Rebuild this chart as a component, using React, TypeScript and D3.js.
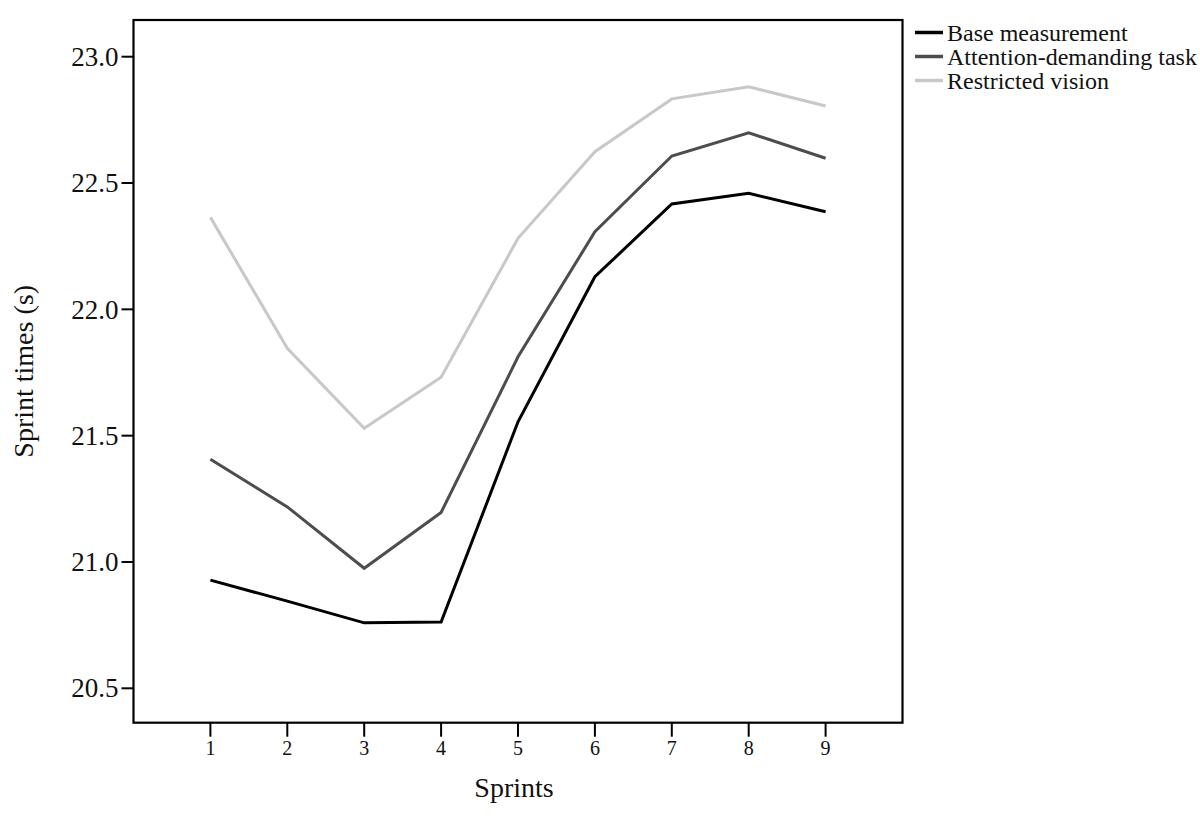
import React from "react";
import * as d3 from "d3";

const sprints = [1, 2, 3, 4, 5, 6, 7, 8, 9];
const baseMeasurement = [20.928, 20.845, 20.759, 20.762, 21.555, 22.129, 22.417, 22.459, 22.386];
const attentionTask = [21.407, 21.218, 20.975, 21.196, 21.812, 22.307, 22.607, 22.699, 22.598];
const restrictedVision = [22.364, 21.846, 21.529, 21.731, 22.281, 22.624, 22.833, 22.881, 22.805];
const yTicks = [20.5, 21.0, 21.5, 22.0, 22.5, 23.0];
const seriesNames = ["Base measurement", "Attention-demanding task", "Restricted vision"];
const seriesColors = ["#000000", "#4d4d4d", "#c8c8c8"];

const FONT = "'Liberation Serif', 'Times New Roman', serif";

export default function App() {
  const left = 133.5, right = 902.5, top = 20, bottom = 722.7;
  const x = d3.scaleLinear().domain([0, 10]).range([left, right]);
  const y = d3.scaleLinear().domain([20.5, 23.0]).range([688.3, 56.7]);
  const line = d3
    .line<number>()
    .x((_, i) => x(sprints[i]))
    .y((d) => y(d));
  const series = [baseMeasurement, attentionTask, restrictedVision];

  return (
    <svg
      width={1200}
      height={840}
      style={{ position: "absolute", left: 0, top: 0, background: "#fff" }}
      fontFamily={FONT}
    >
      <rect x={0} y={0} width={1200} height={840} fill="#fff" />
      {series.map((s, k) => (
        <path
          key={k}
          d={line(s) || ""}
          fill="none"
          stroke={seriesColors[k]}
          strokeWidth={3}
          strokeLinejoin="miter"
        />
      ))}
      <rect
        x={left}
        y={top}
        width={right - left}
        height={bottom - top}
        fill="none"
        stroke="#000"
        strokeWidth={2.2}
      />
      {yTicks.map((t) => (
        <g key={t}>
          <line x1={left - 12} x2={left} y1={y(t)} y2={y(t)} stroke="#000" strokeWidth={2} />
          <text
            x={left - 15}
            y={y(t)}
            dy="0.34em"
            textAnchor="end"
            fontSize={27}
            fill="#111"
          >
            {t.toFixed(1)}
          </text>
        </g>
      ))}
      {sprints.map((s) => (
        <g key={s}>
          <line x1={x(s)} x2={x(s)} y1={bottom} y2={bottom + 14} stroke="#000" strokeWidth={2} />
          <text x={x(s)} y={bottom + 32} textAnchor="middle" fontSize={20} fill="#111">
            {s}
          </text>
        </g>
      ))}
      <text x={514} y={797} textAnchor="middle" fontSize={28} fill="#111">
        Sprints
      </text>
      <text
        transform={`translate(33, ${(top + bottom) / 2}) rotate(-90)`}
        textAnchor="middle"
        fontSize={28}
        fill="#111"
      >
        Sprint times (s)
      </text>
      {seriesNames.map((n, k) => (
        <g key={n}>
          <line
            x1={915}
            x2={943}
            y1={32.5 + k * 24}
            y2={32.5 + k * 24}
            stroke={seriesColors[k]}
            strokeWidth={3.5}
          />
          <text x={947} y={40.5 + k * 24} fontSize={24} fill="#111">
            {n}
          </text>
        </g>
      ))}
    </svg>
  );
}
